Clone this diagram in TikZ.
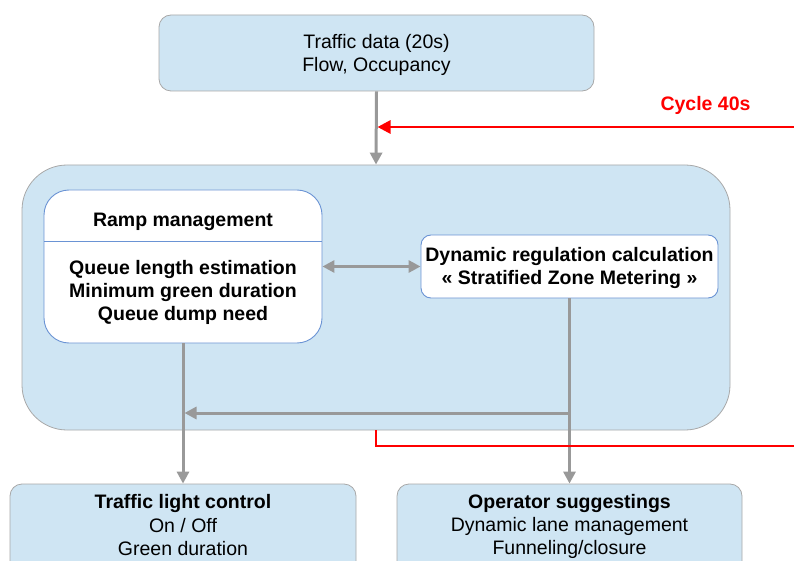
\documentclass[tikz,border=0pt]{standalone}
\usepackage{fontspec}
\setmainfont{Liberation Sans}
\usetikzlibrary{arrows.meta}
\definecolor{boxfill}{HTML}{CFE5F3}
\definecolor{boxline}{HTML}{A8A8A8}
\definecolor{innerline}{HTML}{6A93D4}
\definecolor{conn}{HTML}{999999}
\tikzset{
  outerbox/.style={draw=boxline, line width=0.8pt, fill=boxfill, rounded corners=12pt, inner sep=0pt},
  innerbox/.style={draw=innerline, line width=0.9pt, fill=white, inner sep=0pt},
  txt/.style={align=center, inner sep=0pt, font=\fontsize{19.5}{23}\selectfont},
  btxt/.style={txt, font=\fontsize{19.5}{23}\selectfont\bfseries},
  gconn/.style={draw=conn, line width=3pt, -{Triangle[length=12pt,width=12pt]}},
  gdconn/.style={draw=conn, line width=3pt, {Triangle[length=12pt,width=12pt]}-{Triangle[length=12pt,width=12pt]}},
  gline/.style={draw=conn, line width=3pt},
  rconn/.style={draw=red, line width=2.8pt, -{Triangle[length=13pt,width=13pt]}},
  rline/.style={draw=red, line width=2.8pt},
}
\begin{document}
\begin{tikzpicture}[x=1pt,y=-1pt]
\useasboundingbox (0,0) rectangle (794,561);
\begin{scope}
\clip (0,0) rectangle (794,561);
% top box
\node[outerbox, minimum width=435pt, minimum height=76pt] (top) at (376.5,53) {};
\node[txt] (toptxt) at (376.5,55) {Traffic data (20s)\\Flow, Occupancy};
% big container
\node[outerbox, rounded corners=45pt, minimum width=708pt, minimum height=265pt] (big) at (376,297.5) {};
% ramp management
\node[innerbox, rounded corners=25pt, minimum width=278pt, minimum height=153pt] (ramp) at (183,266.5) {};
\draw[innerline, line width=0.9pt] (44,241) coordinate (divl) -- (322,241) coordinate (divr);
\node[btxt] (ramph) at (183,222) {Ramp management};
\node[btxt] (rampb) at (183,292) {Queue length estimation\\Minimum green duration\\Queue dump need};
% dynamic regulation
\node[innerbox, rounded corners=10pt, minimum width=297pt, minimum height=63pt] (dyn) at (569.5,266.5) {};
\node[btxt] (dyntxt) at (569.5,268) {Dynamic regulation calculation\\« Stratified Zone Metering »};
% bottom boxes
\node[outerbox, minimum width=346pt, minimum height=92pt] (tl) at (183,530) {};
\node[btxt] (tlh) at (183,503) {Traffic light control};
\node[txt] (tlb) at (183,537.5) {On / Off\\Green duration};
\node[outerbox, minimum width=345pt, minimum height=92pt] (op) at (569.5,530) {};
\node[btxt] (oph) at (569.5,503) {Operator suggestings};
\node[txt] (opb) at (569.5,537.5) {Dynamic lane management\\Funneling/closure};
% cycle label
\node[btxt, text=red] (cyc) at (705.5,105) {Cycle 40s};
% connectors
\draw[gconn] (top.south) -- (big.north);
\coordinate (rin) at (794,127);
\coordinate (rend) at (377.5,127);
\draw[rconn] (rin) -- (rend);
\draw[gdconn] (ramp.east) -- (dyn.west);
\draw[gconn] (ramp.south) -- (tl.north);
\draw[gconn] (dyn.south) -- (op.north);
\coordinate (hr) at (569.5,413);
\coordinate (hl) at (184.5,413);
\draw[gconn] (hr) -- (hl);
\coordinate (rb) at (376,446);
\coordinate (rout) at (794,446);
\draw[rline] (big.south) -- (rb) -- (rout);
\end{scope}
\end{tikzpicture}
\end{document}
